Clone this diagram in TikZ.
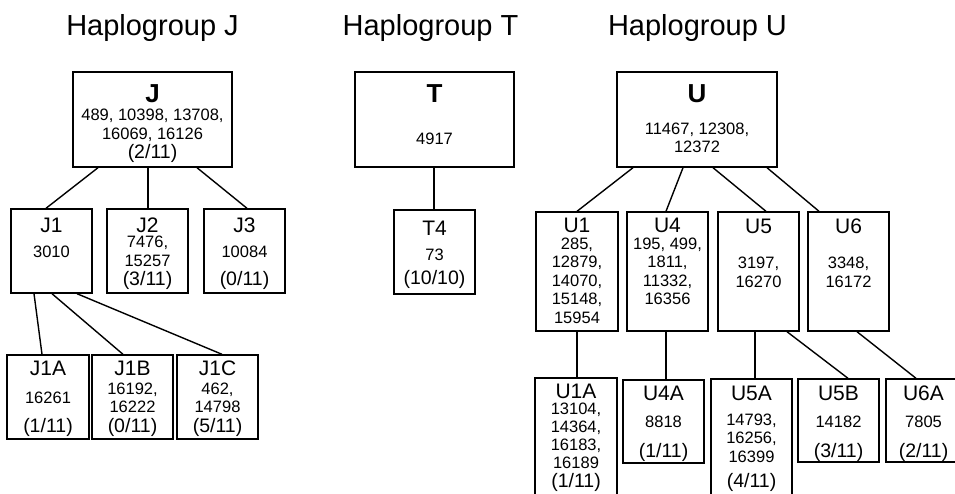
\documentclass[tikz,border=0pt]{standalone}
\usepackage{fontspec}
\setmainfont{Liberation Sans}

\tikzset{
  grpbox/.style={draw, rectangle, line width=1.4pt, inner sep=0pt},
  edge/.style={line width=1.4pt},
  grptitle/.style={font=\fontsize{29}{34}\selectfont, anchor=base},
  toplab/.style={font=\bfseries\fontsize{26}{30}\selectfont},
  sublab/.style={font=\fontsize{21}{25}\selectfont},
  nums/.style={font=\fontsize{16.5}{18.5}\selectfont, align=center, inner sep=0pt},
  frac/.style={font=\fontsize{19.5}{22}\selectfont, inner sep=0pt}
}

\begin{document}
\begin{tikzpicture}[x=1pt, y=-1pt]

% page is 955 x 493, boxes at the edges are cut off
\clip (0,0) rectangle (955,493);

% ========== Haplogroup J ==========
\node[grptitle] (tJ) at (152.5,35) {Haplogroup J};

\node[grpbox, minimum width=159, minimum height=95] (J) at (152.5,119.5) {};
\node[toplab] (J-lab) at (152.5,94) {J};
\node[nums] (J-num) at (152.5,125.5) {489, 10398, 13708,\\16069, 16126};
\node[frac] (J-frac) at (152.5,153.5) {(2/11)};

% second level
\node[grpbox, minimum width=81, minimum height=84] (J1) at (51.5,251) {};
\node[sublab] (J1-lab) at (51.5,225) {J1};
\node[nums] (J1-num) at (51.5,252) {3010};

\node[grpbox, minimum width=81, minimum height=84] (J2) at (147.5,251) {};
\node[sublab] (J2-lab) at (147.5,225) {J2};
\node[nums] (J2-num) at (147.5,251.5) {7476,\\15257};
\node[frac] (J2-frac) at (147.5,280) {(3/11)};

\node[grpbox, minimum width=81, minimum height=84] (J3) at (244.5,251) {};
\node[sublab] (J3-lab) at (244.5,225) {J3};
\node[nums] (J3-num) at (244.5,252) {10084};
\node[frac] (J3-frac) at (244.5,280) {(0/11)};

% third level
\node[grpbox, minimum width=82, minimum height=84] (J1A) at (48,397) {};
\node[sublab] (J1A-lab) at (48,368) {J1A};
\node[nums] (J1A-num) at (48,398) {16261};
\node[frac] (J1A-frac) at (48,427) {(1/11)};

\node[grpbox, minimum width=81, minimum height=84] (J1B) at (132.5,397) {};
\node[sublab] (J1B-lab) at (132.5,368) {J1B};
\node[nums] (J1B-num) at (132.5,398) {16192,\\16222};
\node[frac] (J1B-frac) at (132.5,427) {(0/11)};

\node[grpbox, minimum width=81, minimum height=84] (J1C) at (217.5,397) {};
\node[sublab] (J1C-lab) at (217.5,368) {J1C};
\node[nums] (J1C-num) at (217.5,398) {462,\\14798};
\node[frac] (J1C-frac) at (217.5,427) {(5/11)};

% connectors
\draw[edge] ([xshift=-54.5]J.south) -- ([xshift=-5.5]J1.north);
\draw[edge] ([xshift=-4.5]J.south) -- ([xshift=0.5]J2.north);
\draw[edge] ([xshift=44.5]J.south) -- ([xshift=2.5]J3.north);
\draw[edge] ([xshift=-17.5]J1.south) -- ([xshift=-6]J1A.north);
\draw[edge] ([xshift=0.5]J1.south) -- ([xshift=-9.5]J1B.north);
\draw[edge] ([xshift=25.5]J1.south) -- ([xshift=4.5]J1C.north);

% ========== Haplogroup T ==========
\node[grptitle] (tT) at (430.5,35) {Haplogroup T};

\node[grpbox, minimum width=159, minimum height=95] (T) at (434.5,119.5) {};
\node[toplab] (T-lab) at (434.5,94) {T};
\node[nums] (T-num) at (434.5,139) {4917};

\node[grpbox, minimum width=81, minimum height=84] (T4) at (434.5,252) {};
\node[sublab] (T4-lab) at (434.5,228.5) {T4};
\node[nums] (T4-num) at (434.5,255) {73};
\node[frac] (T4-frac) at (434.5,279) {(10/10)};

\draw[edge] ([xshift=-0.5]T.south) -- ([xshift=-0.5]T4.north);

% ========== Haplogroup U ==========
\node[grptitle] (tU) at (697.5,35) {Haplogroup U};

\node[grpbox, minimum width=160, minimum height=95] (U) at (697,119.5) {};
\node[toplab] (U-lab) at (697,93.5) {U};
\node[nums] (U-num) at (697,138) {11467, 12308,\\12372};

% second level
\node[grpbox, minimum width=82, minimum height=119] (U1) at (577,271.5) {};
\node[sublab] (U1-lab) at (577,225.5) {U1};
\node[nums] (U1-num) at (577,280.5) {285,\\12879,\\14070,\\15148,\\15954};

\node[grpbox, minimum width=81, minimum height=119] (U4) at (667.5,271.5) {};
\node[sublab] (U4-lab) at (667.5,225.5) {U4};
\node[nums] (U4-num) at (667.5,271.5) {195, 499,\\1811,\\11332,\\16356};

\node[grpbox, minimum width=81, minimum height=119] (U5) at (758.5,271.5) {};
\node[sublab] (U5-lab) at (758.5,226) {U5};
\node[nums] (U5-num) at (758.5,272.5) {3197,\\16270};

\node[grpbox, minimum width=81, minimum height=119] (U6) at (848.5,271.5) {};
\node[sublab] (U6-lab) at (848.5,226) {U6};
\node[nums] (U6-num) at (848.5,272.5) {3348,\\16172};

% third level
\node[grpbox, minimum width=82, minimum height=122] (U1A) at (576,439) {};
\node[sublab] (U1A-lab) at (576,391) {U1A};
\node[nums, font=\fontsize{16.5}{18}\selectfont] (U1A-num) at (576,435.5) {13104,\\14364,\\16183,\\16189};
\node[frac] (U1A-frac) at (576,482.5) {(1/11)};

\node[grpbox, minimum width=81, minimum height=83] (U4A) at (663.5,421.5) {};
\node[sublab] (U4A-lab) at (663.5,393) {U4A};
\node[nums] (U4A-num) at (663.5,422) {8818};
\node[frac] (U4A-frac) at (663.5,452) {(1/11)};

\node[grpbox, minimum width=81, minimum height=121] (U5A) at (751.5,439.5) {};
\node[sublab] (U5A-lab) at (751.5,393) {U5A};
\node[nums] (U5A-num) at (751.5,438) {14793,\\16256,\\16399};
\node[frac] (U5A-frac) at (751.5,482.5) {(4/11)};

\node[grpbox, minimum width=81, minimum height=83] (U5B) at (838.5,420.5) {};
\node[sublab] (U5B-lab) at (838.5,393) {U5B};
\node[nums] (U5B-num) at (838.5,422) {14182};
\node[frac] (U5B-frac) at (838.5,452) {(3/11)};

\node[grpbox, minimum width=81, minimum height=83] (U6A) at (926.5,420.5) {};
\node[sublab] (U6A-lab) at (923.5,393) {U6A};
\node[nums] (U6A-num) at (923.5,422) {7805};
\node[frac] (U6A-frac) at (923.5,452) {(2/11)};

% connectors
\draw[edge] ([xshift=-64]U.south) -- (U1.north);
\draw[edge] ([xshift=-14]U.south) -- ([xshift=-1.5]U4.north);
\draw[edge] ([xshift=16]U.south) -- ([xshift=7.5]U5.north);
\draw[edge] ([xshift=70]U.south) -- ([xshift=-29.5]U6.north);
\draw[edge] (U1.south) -- ([xshift=1]U1A.north);
\draw[edge] ([xshift=-1.5]U4.south) -- ([xshift=2.5]U4A.north);
\draw[edge] ([xshift=-3.5]U5.south) -- ([xshift=3.5]U5A.north);
\draw[edge] ([xshift=28.5]U5.south) -- ([xshift=9.5]U5B.north);
\draw[edge] ([xshift=8.5]U6.south) -- ([xshift=-10.5]U6A.north);

\end{tikzpicture}
\end{document}
